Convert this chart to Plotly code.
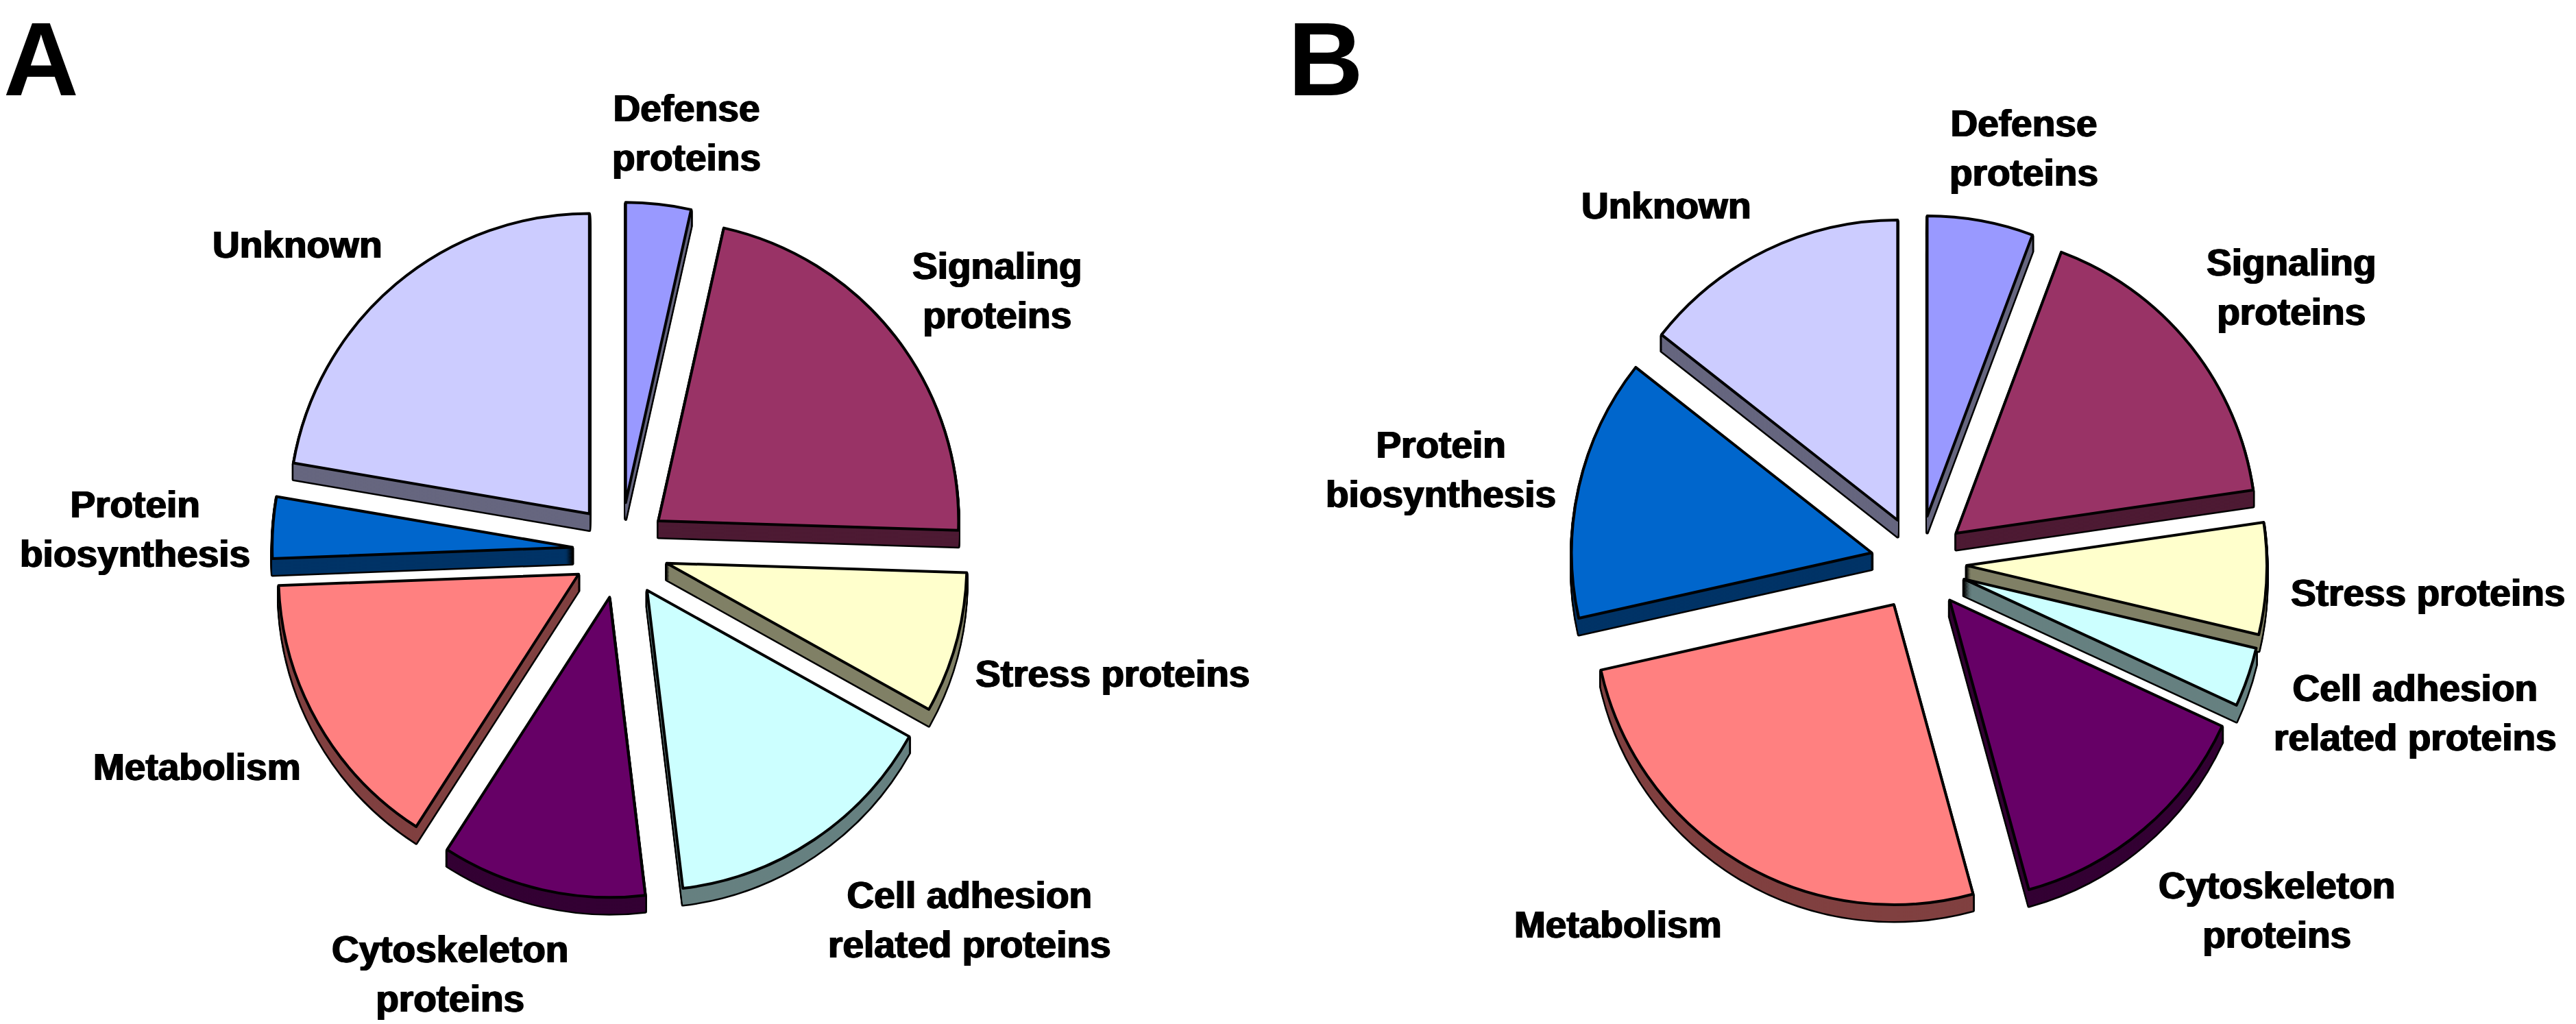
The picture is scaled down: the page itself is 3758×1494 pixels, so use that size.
import plotly.graph_objects as go

W, H = 3758, 1494
SCALE = W / 1568

categories = ["Defense proteins", "Signaling proteins", "Stress proteins",
              "Cell adhesion related proteins", "Cytoskeleton proteins",
              "Metabolism", "Protein biosynthesis", "Unknown"]
values_a = [3.5, 22.0, 7.6, 15.0, 11.0, 15.3, 3.3, 22.3]
values_b = [5.7, 17.0, 6.0, 3.2, 13.85, 25.75, 14.1, 14.4]
colors = ["#9999FF", "#993366", "#FFFFCC", "#CCFFFF", "#660066", "#FF8080", "#0066CC", "#CCCCFF"]
wall_colors = ["#66667F", "#4D1A33", "#808066", "#668080", "#330033", "#804040", "#003366", "#66667F"]

label_text = ["Defense<br>proteins", "Signaling<br>proteins", "Stress proteins",
              "Cell adhesion<br>related proteins", "Cytoskeleton<br>proteins",
              "Metabolism", "Protein<br>biosynthesis", "Unknown"]
label_xy_a = [(418, 81), (607, 177), (677, 410), (590, 560), (274, 593), (120, 467), (82, 322), (181, 149)]
label_xy_b = [(1232, 90), (1395, 175), (1478, 361), (1470, 434), (1386, 554), (985, 563), (877, 286), (1014, 125)]
panel_xy = {"A": (25, 36), "B": (807, 36)}

PULL = 0.16
RADIUS = 438
DEPTH = 24
STEP = 2
BOX = 2 * RADIUS * (1 + PULL)
centers = {"A": (905, 803), "B": (2799, 822)}

fig = go.Figure()


def add_pie(values, cx, cy, fill, line_color, line_width):
    fig.add_trace(go.Pie(
        values=values, labels=categories, sort=False, direction="clockwise", rotation=0,
        pull=PULL, textinfo="none", hoverinfo="label+percent", showlegend=False,
        marker=dict(colors=fill, line=dict(color=line_color, width=line_width)),
        domain=dict(x=[(cx - BOX / 2) / W, (cx + BOX / 2) / W],
                    y=[1 - (cy + BOX / 2) / H, 1 - (cy - BOX / 2) / H]),
    ))


for key, values in (("A", values_a), ("B", values_b)):
    cx, cy = centers[key]
    offsets = list(range(DEPTH, 0, -STEP))
    for d in offsets:
        add_pie(values, cx, cy + d, ["#000000"] * 8, "#000000", 5)
    for d in offsets:
        add_pie(values, cx, cy + d, wall_colors, "rgba(0,0,0,0)", 0)
    add_pie(values, cx, cy, colors, "#000000", 4)

font = dict(family="Liberation Sans, Arial, sans-serif", size=55, color="#000000",
            shadow="1px 0 0 #000000, -1px 0 0 #000000")
annotations = []
for xy in (label_xy_a, label_xy_b):
    for text, (x, y) in zip(label_text, xy):
        annotations.append(dict(text=f"<b>{text}</b>", x=x * SCALE / W, y=1 - y * SCALE / H,
                                xref="paper", yref="paper", showarrow=False, align="center",
                                xanchor="center", yanchor="middle", font=font))
for letter, (x, y) in panel_xy.items():
    annotations.append(dict(text=f"<b>{letter}</b>", x=x * SCALE / W, y=1 - y * SCALE / H,
                            xref="paper", yref="paper", showarrow=False,
                            xanchor="center", yanchor="middle",
                            font=dict(family="Liberation Sans, Arial, sans-serif", size=152, color="#000000")))

fig.update_layout(width=W, height=H, margin=dict(l=0, r=0, t=0, b=0), autosize=False,
                  paper_bgcolor="white", plot_bgcolor="white", annotations=annotations,
                  showlegend=False)
fig.write_html("out.html", post_script="document.body.style.margin='0';",
               config={"displayModeBar": False})
